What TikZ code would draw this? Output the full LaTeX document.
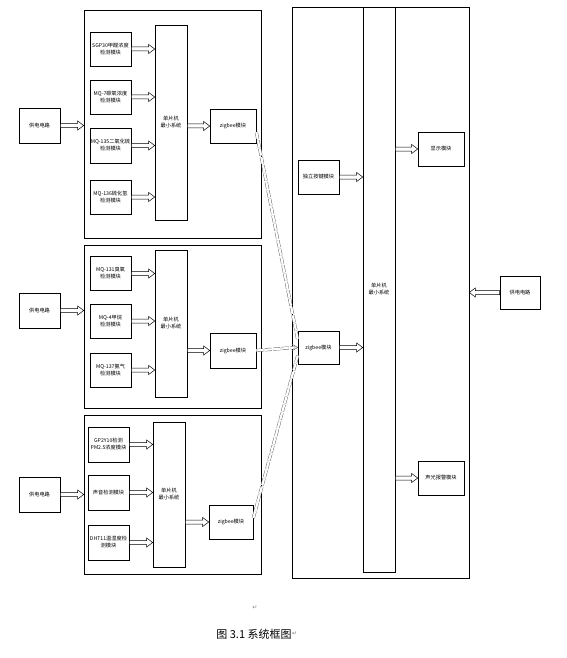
\documentclass[tikz,border=0pt]{standalone}
\usepackage{fontspec}
\setmainfont{Noto Sans CJK SC}
\newfontfamily\symfont{DejaVu Sans}
\usetikzlibrary{calc}
\tikzset{
  box/.style={draw, line width=0.6pt, inner sep=0pt, align=center, font=\fontsize{5.2}{7}\selectfont},
  group/.style={draw, line width=0.6pt, inner sep=0pt},
  harrow/.style={draw, fill=white, line width=0.5pt, to path={
    let \p1=(\tikztostart), \p2=(\tikztotarget), \n1={ifthenelse(\x2>\x1,1,-1)} in
    (\x1,\y1+2pt) -- ({\x2-\n1*6pt},\y1+2pt) -- ({\x2-\n1*6pt},\y1+4.5pt) -- (\x2,\y1)
    -- ({\x2-\n1*6pt},\y1-4.5pt) -- ({\x2-\n1*6pt},\y1-2pt) -- (\x1,\y1-2pt) -- cycle}},
  zlink/.style={draw=black!60, line width=0.45pt, double=white, double distance=2.2pt, dash pattern=on 7pt off 1.5pt},
  pmark/.style={text=gray, font=\symfont\fontsize{6}{7}\selectfont, inner sep=0pt}
}
\begin{document}
\begin{tikzpicture}[x=1pt,y=-1pt]
\useasboundingbox (0,0) rectangle (566,658);
% ---------- group 1 ----------
\node[group, minimum width=177, minimum height=228] (g1) at (172.5,124) {};
\node[box, minimum width=41, minimum height=34] (s11) at (110.5,49) {SGP30甲醛浓度\\检测模块};
\node[box, minimum width=41, minimum height=34] (s12) at (110.5,97) {MQ-7碳氧浓度\\检测模块};
\node[box, minimum width=41, minimum height=35] (s13) at (110.5,145.5) {MQ-135二氧化硫\\检测模块};
\node[box, minimum width=41, minimum height=34] (s14) at (110.5,197) {MQ-136硫化氢\\检测模块};
\node[box, minimum width=32, minimum height=195] (m1) at (171,122.5) {单片机\\最小系统};
\node[box, minimum width=46, minimum height=34] (z1) at (233,126) {zigbee模块};
\node[box, minimum width=41, minimum height=35] (p1) at (39.5,125.5) {供电电路};
% ---------- group 2 ----------
\node[group, minimum width=177, minimum height=163] (g2) at (172.5,326.5) {};
\node[box, minimum width=41, minimum height=34] (s21) at (110.5,273.5) {MQ-131臭氧\\检测模块};
\node[box, minimum width=41, minimum height=34] (s22) at (110.5,321) {MQ-4甲烷\\检测模块};
\node[box, minimum width=41, minimum height=34] (s23) at (110.5,370) {MQ-137氨气\\检测模块};
\node[box, minimum width=32, minimum height=147] (m2) at (171,323.5) {单片机\\最小系统};
\node[box, minimum width=46, minimum height=35] (z2) at (233,350.5) {zigbee模块};
\node[box, minimum width=41, minimum height=35] (p2) at (39.5,310.5) {供电电路};
% ---------- group 3 ----------
\node[group, minimum width=177, minimum height=159] (g3) at (172.5,494.5) {};
\node[box, minimum width=41, minimum height=35] (s31) at (108.5,444.5) {GP2Y10检测\\PM2.5浓度模块};
\node[box, minimum width=41, minimum height=35] (s32) at (108.5,492.5) {声音检测模块};
\node[box, minimum width=41, minimum height=35] (s33) at (108.5,542.5) {DHT11温湿度检\\测模块};
\node[box, minimum width=32, minimum height=145] (m3) at (169,494.5) {单片机\\最小系统};
\node[box, minimum width=44, minimum height=34] (z3) at (231,522) {zigbee模块};
\node[box, minimum width=41, minimum height=35] (p3) at (39.5,494.5) {供电电路};
% ---------- right part ----------
\node[group, minimum width=177, minimum height=571] (R) at (380.5,292.5) {};
\node[box, minimum width=32, minimum height=565] (mm) at (379,289.5) {单片机\\最小系统};
\node[box, minimum width=41, minimum height=34] (key) at (318.5,177) {独立按键模块};
\node[box, minimum width=41, minimum height=33] (zm) at (318.5,347.5) {zigbee模块};
\node[box, minimum width=46, minimum height=34] (disp) at (441,149) {显示模块};
\node[box, minimum width=46, minimum height=34] (alarm) at (441,478) {声光报警模块};
\node[box, minimum width=40, minimum height=33] (pr) at (520,292.5) {供电电路};
% ---------- arrows ----------
\foreach \s/\m in {s11/m1,s12/m1,s13/m1,s14/m1,s21/m2,s22/m2,s23/m2,s31/m3,s32/m3,s33/m3}
  \draw[harrow] (\s.east) to (\s.east -| \m.west);
\draw[harrow] (m1.east |- z1.west) to (z1.west);
\draw[harrow] (m2.east |- z2.west) to (z2.west);
\draw[harrow] (m3.east |- z3.west) to (z3.west);
\draw[harrow] (p1.east) to (p1.east -| g1.west);
\draw[harrow] (p2.east) to (p2.east -| g2.west);
\draw[harrow] (p3.east) to (p3.east -| g3.west);
\draw[harrow] (key.east) to (key.east -| mm.west);
\draw[harrow] (zm.east) to (zm.east -| mm.west);
\draw[harrow] (mm.east |- disp.west) to (disp.west);
\draw[harrow] (mm.east |- alarm.west) to (alarm.west);
\draw[harrow] (pr.west) to (pr.west -| R.east);
% ---------- zigbee wireless links ----------
\coordinate (zin1) at ($(zm.west)+(0,-8)$);
\coordinate (zin3) at ($(zm.west)+(0,8)$);
\draw[zlink] ($(z1.east)+(0,6)$) -- (zin1);
\draw[zlink] (z2.east) -- ($(zm.west)+(-3,0)$);
\draw[zlink] ($(z3.east)+(0,-4)$) -- (zin3);
\draw[black!60, line width=0.5pt] ($(zm.west)+(-6,-3.5)$) -- (zm.west) -- ($(zm.west)+(-6,3.5)$);
% ---------- caption ----------
\node[pmark] (pm) at (255,608) {↵};
\node[inner sep=0pt, font=\fontsize{11}{13}\selectfont] (cap) at (254,634) {图 3.1 系统框图};
\node[pmark, anchor=west] (pm2) at (cap.east) {↵};
\end{tikzpicture}
\end{document}
